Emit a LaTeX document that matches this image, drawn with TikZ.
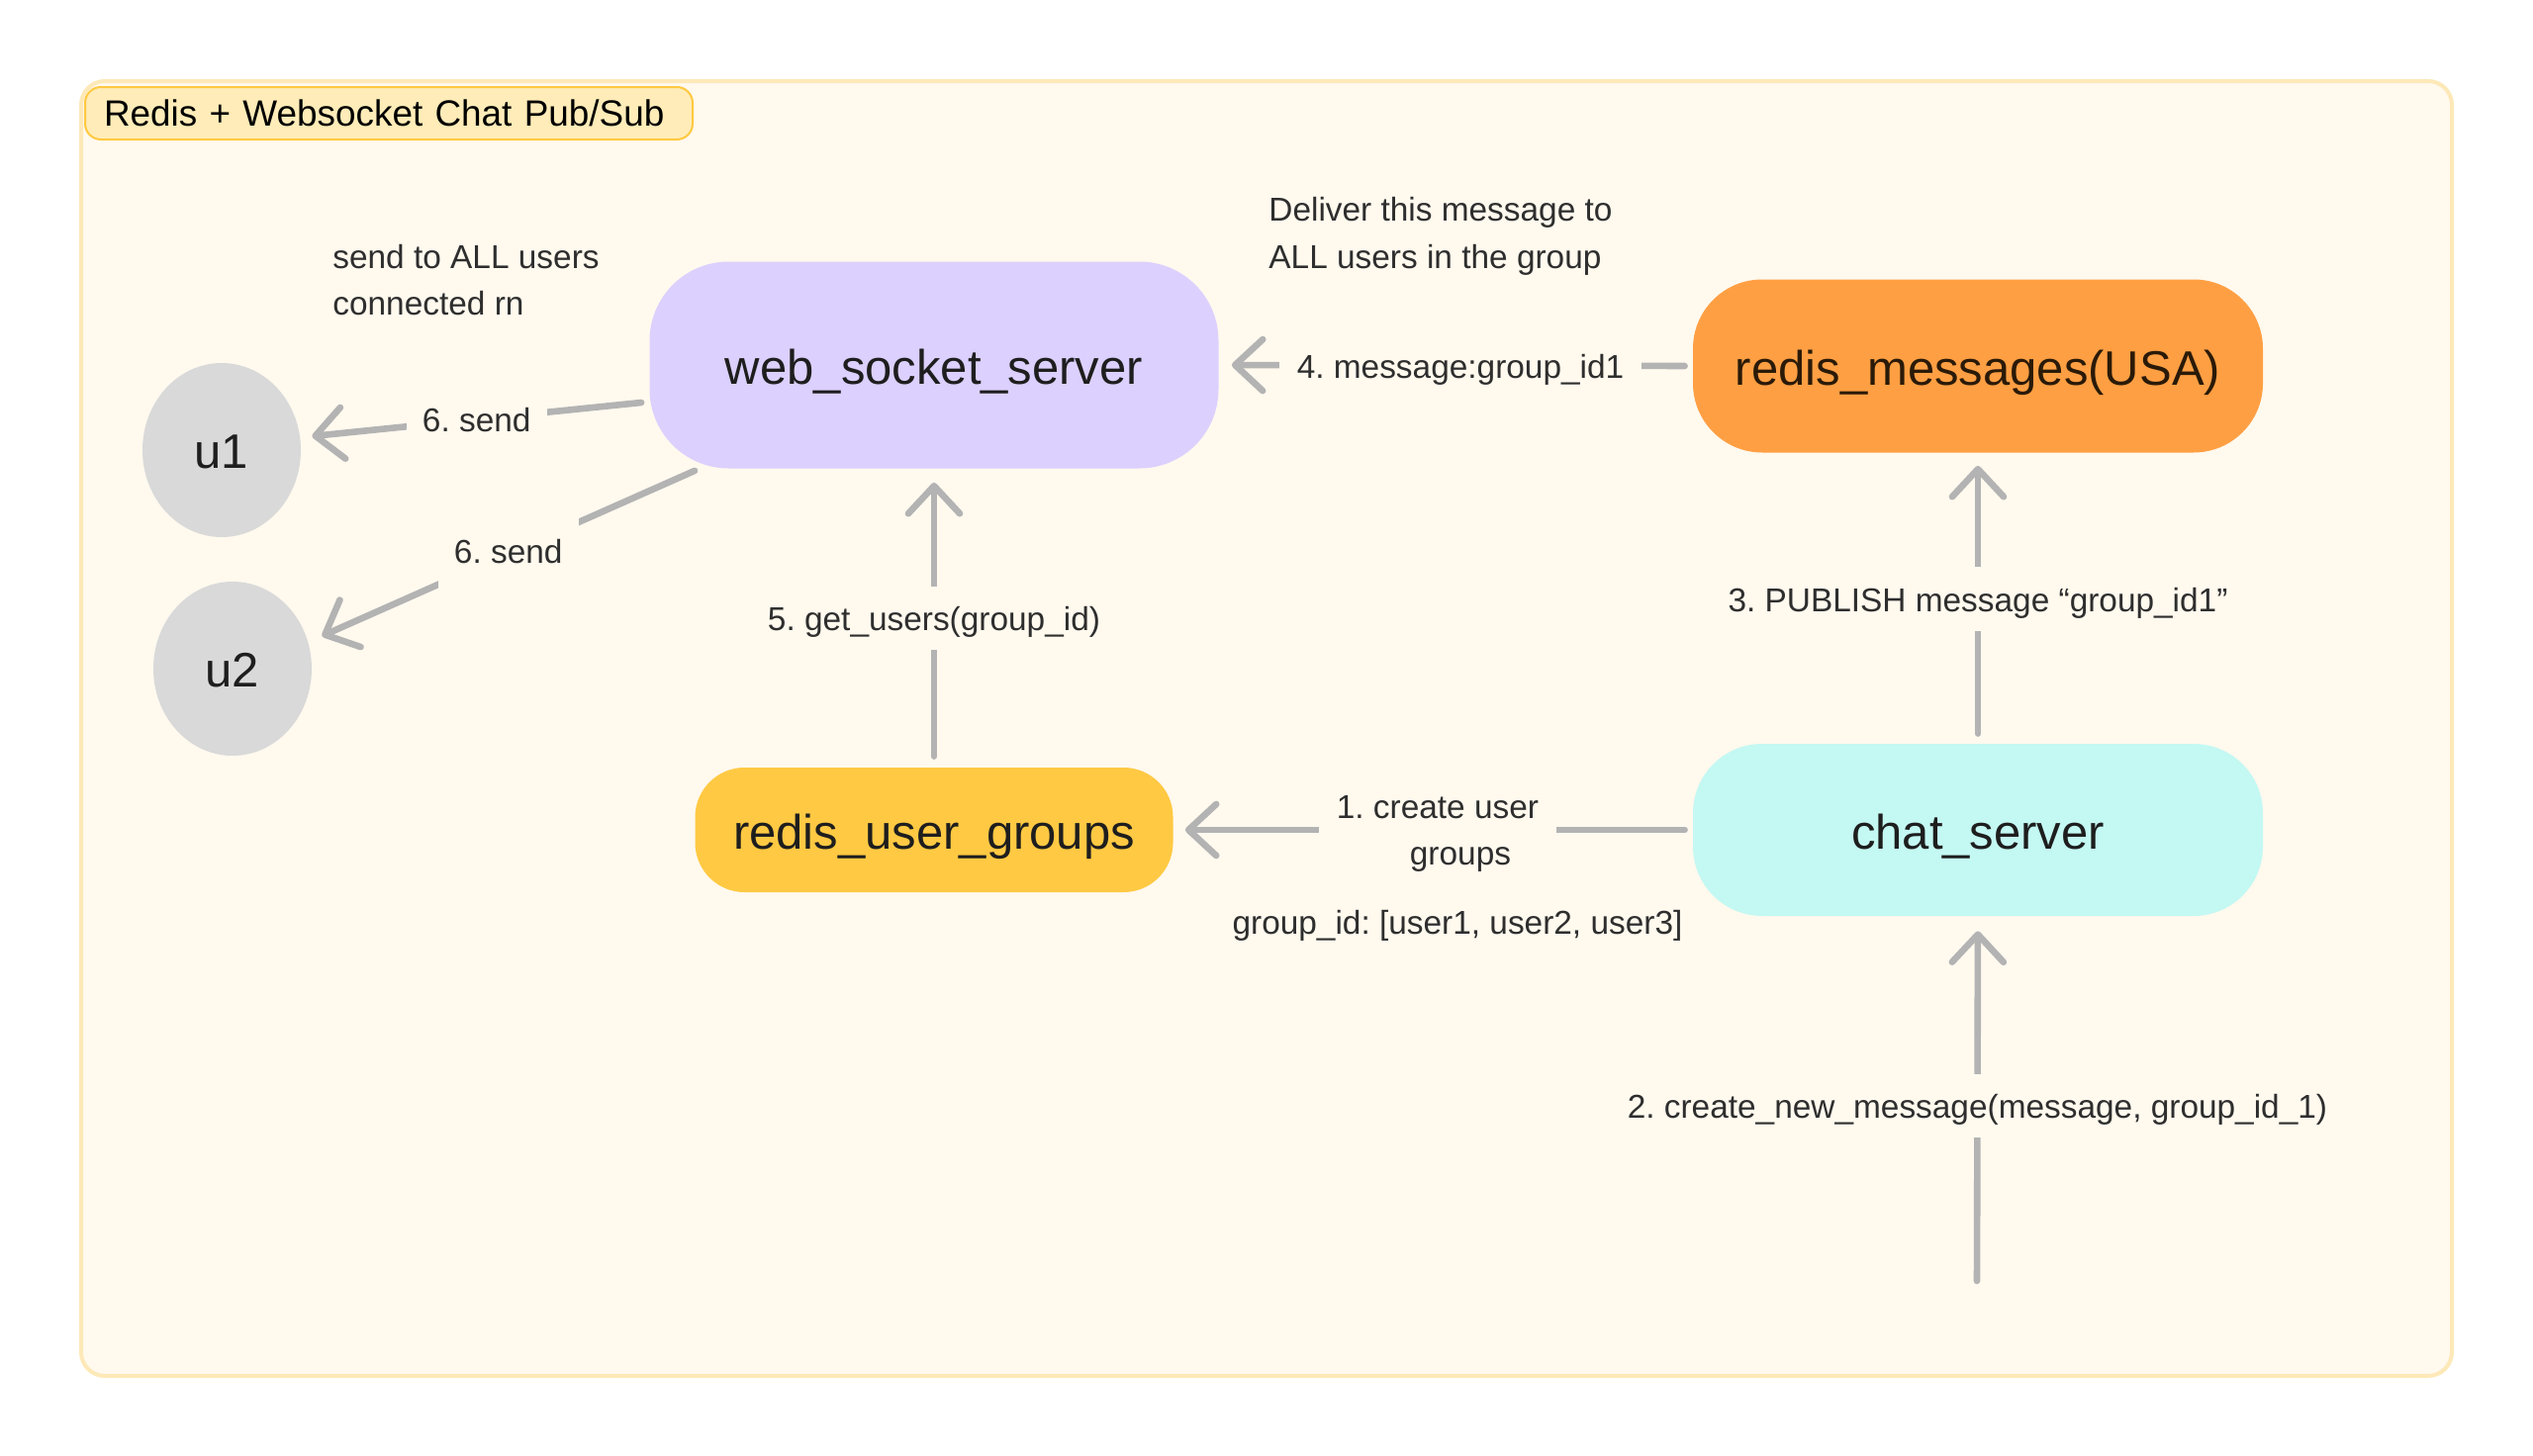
\documentclass[tikz,border=0pt]{standalone}
\usepackage{fontspec}
\setmainfont{Liberation Sans}
\frenchspacing
\usetikzlibrary{arrows.meta,calc,shapes.geometric}
\definecolor{bgc}{HTML}{FFF9EE}
\definecolor{framec}{HTML}{FDE9B8}
\definecolor{titlefill}{HTML}{FFECB8}
\definecolor{titledraw}{HTML}{FFC940}
\definecolor{wssc}{HTML}{DCD0FE}
\definecolor{rmc}{HTML}{FF9F43}
\definecolor{rmtext}{HTML}{2A1A08}
\definecolor{rugc}{HTML}{FFC943}
\definecolor{csc}{HTML}{C4F8F3}
\definecolor{userc}{HTML}{D9D9D9}
\definecolor{cgray}{HTML}{B3B3B3}
\definecolor{labc}{HTML}{2E2E2E}
\definecolor{nodetext}{HTML}{1E1E1E}
\tikzset{
  box/.style={draw=none, align=center, text=nodetext, font=\fontsize{24.5}{29}\selectfont, inner sep=0pt, text height=19.1pt, text depth=0pt},
  usernode/.style={ellipse, fill=userc, draw=none, text=nodetext, font=\fontsize{24.5}{29}\selectfont, inner sep=0pt, minimum width=80pt, minimum height=88pt, text height=18.6pt, text depth=0pt},
  conn/.style={draw=cgray, line width=3.3pt, line cap=round, line join=round, -{Straight Barb[length=14pt,width=26pt,round]}},
  lbl/.style={fill=bgc, text=labc, font=\fontsize{16.7}{23.7}\selectfont, inner xsep=9pt, inner ysep=9pt, align=center, text height=13.4pt, text depth=0.8pt},
  mlbl/.style={fill=bgc, text=labc, font=\fontsize{16.7}{23.7}\selectfont, inner xsep=9pt, inner ysep=8pt, align=center},
  dlbl/.style={lbl, inner xsep=8pt, inner ysep=12pt},
  note/.style={text=labc, font=\fontsize{16.7}{23.7}\selectfont, align=left, inner sep=0pt}
}
\begin{document}
\begin{tikzpicture}[x=0.5pt,y=-0.5pt]
\useasboundingbox[fill=white] (0,0) rectangle (2560,1472);
% frame
\draw[draw=framec, fill=bgc, line width=2pt, rounded corners=12pt] (82,82) rectangle (2478,1391);
% title
\node[draw=titledraw, fill=titlefill, line width=1pt, rounded corners=8pt, anchor=north west,
      text width=288pt, inner xsep=9.5pt, minimum height=26.5pt, align=left,
      font=\fontsize{18.45}{22}\selectfont, text=black] (title) at (85,87) {Redis + Websocket Chat Pub/Sub};
% main nodes
\node[box, fill=wssc, minimum width=287.5pt, minimum height=104.5pt, rounded corners=40pt] (wss) at (944,369) {web\_socket\_server};
\node[box, fill=rmc, minimum width=288pt, minimum height=87.5pt, rounded corners=35pt, text=rmtext] (rm) at (1999,370) {redis\_messages(USA)};
\node[box, fill=rugc, minimum width=241.5pt, minimum height=63pt, rounded corners=25pt] (rug) at (944,839) {redis\_user\_groups};
\node[box, fill=csc, minimum width=288pt, minimum height=87pt, rounded corners=35pt] (cs) at (1999,839) {chat\_server};
\node[usernode] (u1) at (224,455) {u1};
\node[usernode] (u2) at (235,676) {u2};
\coordinate (start) at (1998,1295);
% notes
\node[note, anchor=west] (n1) at (336,283) {send to ALL users\\connected rn};
\node[note, anchor=west] (n2) at (1282,239) {Deliver this message to\\ALL users in the group};
\node[note, text height=13.4pt, text depth=0.8pt] (n3) at (1473,932) {group\_id: [user1, user2, user3]};
% connectors
\draw[conn, shorten <=4pt, shorten >=6pt] (cs.west) -- node[mlbl, pos=0.491, yshift=-2pt] {1. create user\\\hspace*{23pt}groups} (rug.east);
\draw[conn, shorten >=7.5pt] (start) -- node[lbl, pos=0.481] {2. create\_new\_message(message, group\_id\_1)} (cs.south);
\draw[conn, shorten <=5pt, shorten >=6.5pt] (cs.north) -- node[lbl, pos=0.497] {3. PUBLISH message “group\_id1”} (rm.south);
\draw[conn, shorten <=4pt, shorten >=6.5pt] (rm.west) -- node[lbl, pos=0.49] {4. message:group\_id1} (wss.east);
\draw[conn, shorten <=5.5pt, shorten >=7pt] (rug.north) -- node[lbl, pos=0.5] {5. get\_users(group\_id)} (wss.south);
\draw[conn] ($(wss.west)+(-8,38)$) -- node[dlbl] {6. send} ($(u1.east)+(11,-14)$);
\draw[conn] ($(wss.south west)+(46,2)$) -- node[dlbl, yshift=1.5pt] {6. send} ($(u2.east)+(10,-33)$);
\end{tikzpicture}
\end{document}
